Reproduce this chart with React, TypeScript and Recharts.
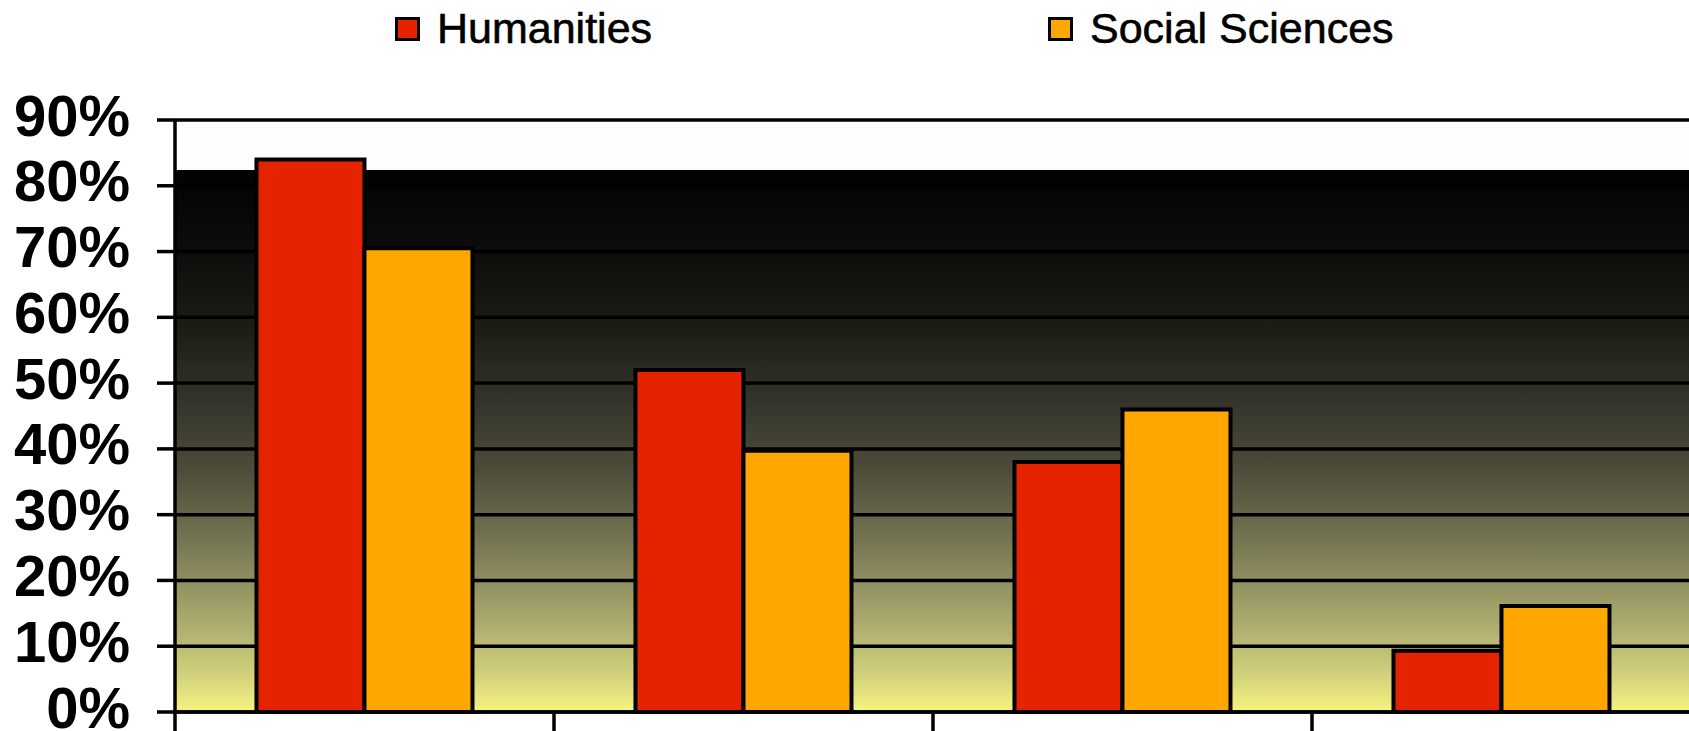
import { BarChart, Bar, XAxis, YAxis, CartesianGrid, Legend } from "recharts";

const categories = ["1", "2", "3", "4"];
const humanities = [84, 52, 38, 9.3];
const socialSciences = [70.5, 39.7, 46, 16.1];
const yTicks = [0, 10, 20, 30, 40, 50, 60, 70, 80, 90];

const data = categories.map((name, i) => ({
  name,
  humanities: humanities[i],
  social: socialSciences[i],
}));

const legendLeft = [395, 1048];

function renderLegend(props: any) {
  const items = props.payload || [];
  return (
    <div style={{ position: "relative", height: 56, width: 1689 }}>
      {items.map((item: any, i: number) => (
        <div
          key={item.value}
          style={{
            position: "absolute",
            left: legendLeft[i],
            top: 16,
            display: "flex",
            alignItems: "center",
            height: 25,
          }}
        >
          <span
            style={{
              display: "inline-block",
              width: 19,
              height: 18,
              background: item.color,
              border: "3px solid #000",
            }}
          />
          <span
            style={{
              marginLeft: 17,
              fontFamily: "'Liberation Sans', Arial, sans-serif",
              fontSize: 43,
              color: "#000",
              lineHeight: "25px",
              WebkitTextStroke: "0.6px #000",
            }}
          >
            {item.value}
          </span>
        </div>
      ))}
    </div>
  );
}

// category labels are not shown; ticks sit on the band edges instead of centres
function EdgeTick(props: any) {
  const { x, y, payload, width } = props;
  const half =
    payload && payload.offset ? payload.offset : width / (2 * categories.length);
  const xe = x - half;
  return <line x1={xe} x2={xe} y1={y} y2={y + 19} stroke="#000" strokeWidth={3.5} />;
}

export default function App() {
  return (
    <div
      style={{
        position: "absolute",
        left: 0,
        top: 0,
        width: 1689,
        height: 731,
        overflow: "hidden",
        background: "#fff",
      }}
    >
      <BarChart
        width={1691}
        height={731}
        data={data}
        margin={{ top: 64, right: 0, left: 0, bottom: 0 }}
        barCategoryGap="21.5%"
        barGap={0}
      >
        <defs>
          <linearGradient id="plotBg" x1="0" y1="0" x2="0" y2="1">
            <stop offset="0" stopColor="#fcfefe" />
            <stop offset="0.085" stopColor="#fcfefe" />
            <stop offset="0.085" stopColor="#020202" />
            <stop offset="0.22" stopColor="#0c0c0a" />
            <stop offset="0.36" stopColor="#1e1e16" />
            <stop offset="0.47" stopColor="#33332a" />
            <stop offset="0.59" stopColor="#4d4c3a" />
            <stop offset="0.68" stopColor="#6a6a4c" />
            <stop offset="0.77" stopColor="#8c8b5f" />
            <stop offset="0.86" stopColor="#b0af70" />
            <stop offset="0.94" stopColor="#d3d27c" />
            <stop offset="1" stopColor="#f7f47f" />
          </linearGradient>
        </defs>
        <Legend
          verticalAlign="top"
          align="left"
          height={56}
          content={renderLegend}
          wrapperStyle={{ top: 0, left: 0 }}
        />
        <CartesianGrid
          vertical={false}
          stroke="#000"
          strokeWidth={3.5}
          fill="url(#plotBg)"
          fillOpacity={1}
        />
        <XAxis
          dataKey="name"
          interval={0}
          height={19}
          tickSize={0}
          tickMargin={0}
          tickLine={false}
          tick={<EdgeTick />}
          axisLine={{ stroke: "#000", strokeWidth: 3.5 }}
        />
        <YAxis
          domain={[0, 90]}
          ticks={yTicks}
          width={175}
          tickSize={18}
          tickMargin={27}
          tickFormatter={(v) => `${v}%`}
          axisLine={{ stroke: "#000", strokeWidth: 3.5 }}
          tickLine={{ stroke: "#000", strokeWidth: 3.5 }}
          tick={{
            fill: "#000",
            fontSize: 58,
            fontWeight: "bold",
            fontFamily: "'Liberation Sans', Arial, sans-serif",
            dy: -5,
          }}
          interval={0}
        />
        <Bar
          dataKey="humanities"
          name="Humanities"
          fill="#e62300"
          stroke="#000"
          strokeWidth={4}
          isAnimationActive={false}
        />
        <Bar
          dataKey="social"
          name="Social Sciences"
          fill="#ffa700"
          stroke="#000"
          strokeWidth={4}
          isAnimationActive={false}
        />
      </BarChart>
    </div>
  );
}
